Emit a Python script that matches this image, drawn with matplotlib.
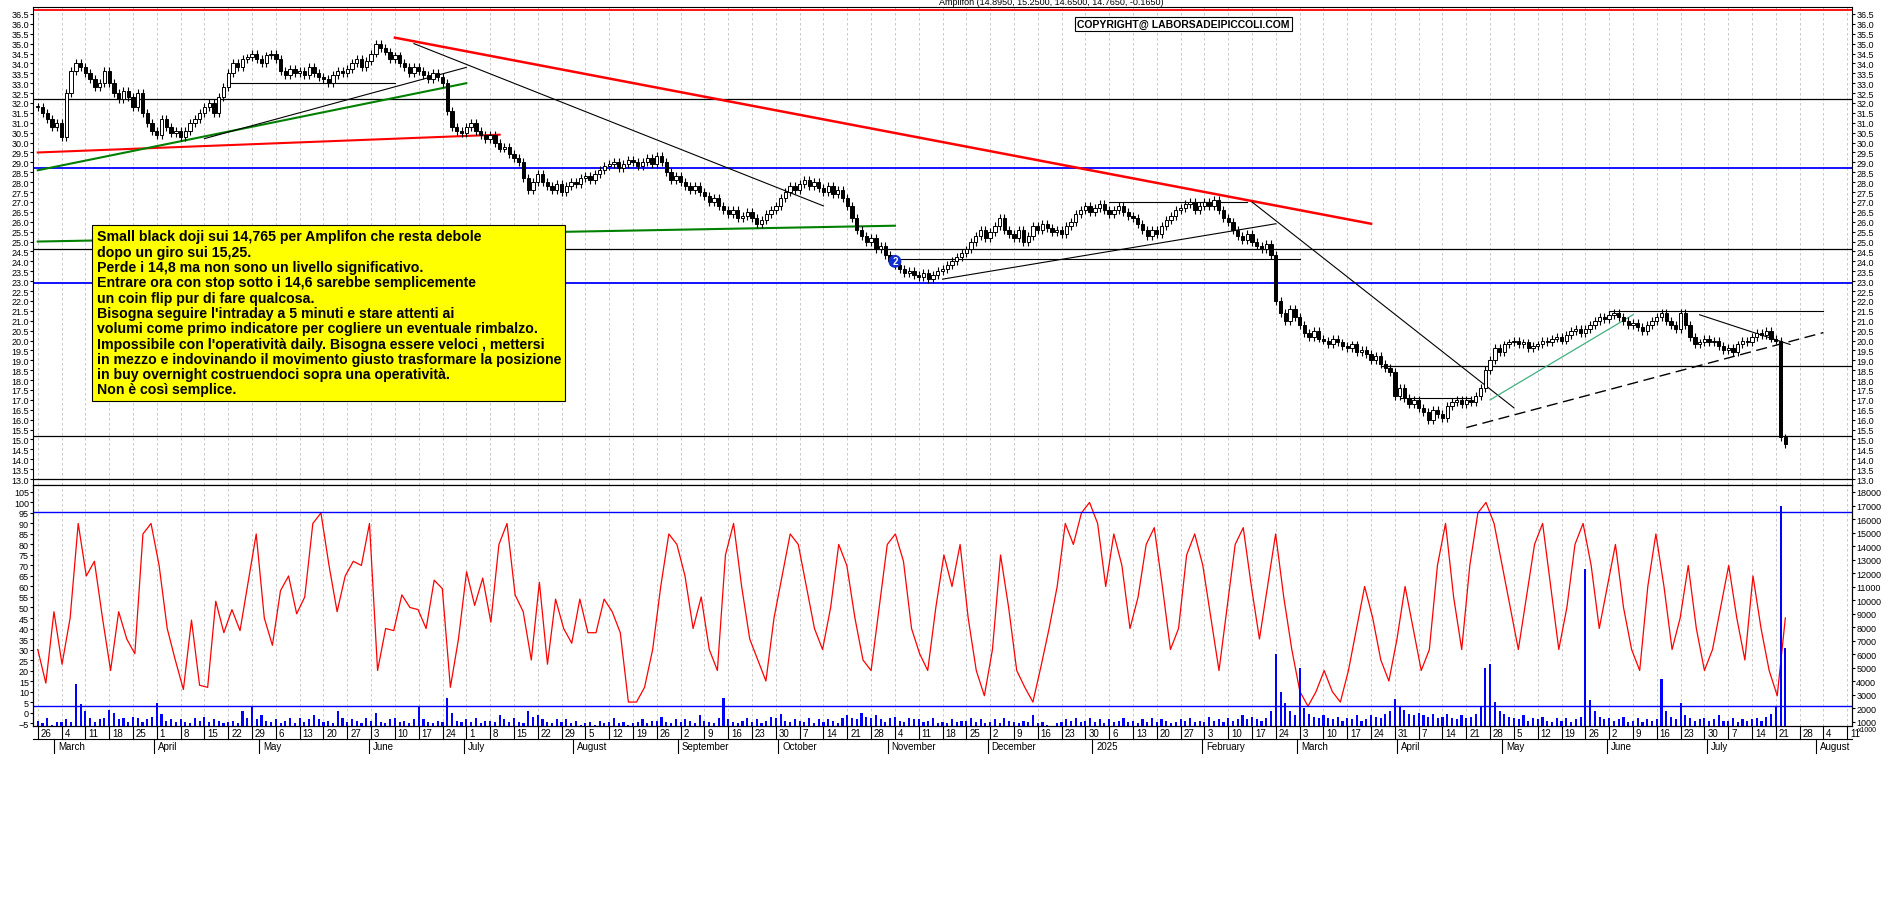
import numpy as np
import pandas as pd
import matplotlib
matplotlib.use("Agg")
import matplotlib.pyplot as plt

plt.rcParams["font.family"] = "Liberation Sans"

# ---------------- data ----------------
start_date = "2024-02-26"
close = [
    31.8, 31.5, 31.2, 30.8, 31.0,
    30.3, 32.5, 33.6, 34.0, 33.8,
    33.5, 33.2, 32.8, 33.0, 33.6,
    33.0, 32.5, 32.2, 32.6, 32.3,
    31.8, 32.5, 31.5, 31.0, 30.6,
    30.4, 31.2, 30.8, 30.5, 30.6,
    30.3, 30.6, 31.0, 31.2, 31.5,
    31.8, 32.0, 31.5, 32.3, 32.8,
    33.5, 34.0, 33.8, 34.2, 34.3,
    34.5, 34.2, 34.0, 34.4, 34.5,
    34.2, 33.6, 33.4, 33.7, 33.5,
    33.6, 33.4, 33.8, 33.5, 33.3,
    33.2, 33.0, 33.4, 33.6, 33.5,
    33.7, 34.0, 34.2, 33.8, 34.1,
    34.5, 35.0, 34.8, 34.6, 34.2,
    34.4, 34.0, 33.8, 33.5, 33.8,
    33.6, 33.4, 33.2, 33.5, 33.3,
    33.0, 31.6, 30.8, 30.6, 30.5,
    30.8, 31.0, 30.6, 30.4, 30.2,
    30.4, 30.0, 29.7, 29.8, 29.4,
    29.2, 29.0, 28.2, 27.6, 28.0,
    28.4, 28.0, 27.8, 27.6, 27.9,
    27.5, 27.8, 28.0, 27.9, 28.2,
    28.3, 28.1, 28.4, 28.6, 28.8,
    28.9, 29.0, 28.7, 28.9, 29.1,
    29.0, 28.8, 29.0, 29.2, 28.9,
    29.3, 29.0, 28.5, 28.1, 28.3,
    28.0, 27.8, 27.6, 27.8, 27.5,
    27.3, 27.0, 27.2, 26.8, 26.6,
    26.4, 26.6, 26.2, 26.3, 26.5,
    26.2, 25.9, 26.1, 26.4, 26.6,
    26.8, 27.2, 27.5, 27.8, 27.6,
    27.9, 28.1, 27.8, 28.0, 27.7,
    27.5, 27.8, 27.4, 27.6, 27.2,
    26.8, 26.2, 25.6, 25.3, 25.0,
    25.2, 24.6, 24.8, 24.3, 24.0,
    23.8, 23.6, 23.4, 23.5, 23.3,
    23.2, 23.4, 23.1, 23.3, 23.5,
    23.6, 23.8, 24.0, 24.2, 24.4,
    24.6, 25.0, 25.3, 25.6, 25.2,
    25.5, 25.8, 26.2, 25.6, 25.4,
    25.2, 25.6, 25.0, 25.3, 25.8,
    25.6, 25.9, 25.7, 25.5, 25.6,
    25.4, 25.8, 26.0, 26.4, 26.6,
    26.8, 26.5, 26.7, 26.9, 26.6,
    26.4, 26.6, 26.8, 26.5, 26.3,
    26.2, 25.9, 25.6, 25.3, 25.6,
    25.4, 25.8, 26.1, 26.3, 26.6,
    26.7, 26.9, 27.0, 26.6, 26.8,
    27.0, 26.8, 27.1, 26.6, 26.2,
    26.0, 25.6, 25.3, 25.1, 25.4,
    25.0, 24.8, 24.6, 24.9, 24.3,
    22.0, 21.4, 21.0, 21.6, 21.2,
    20.8, 20.4, 20.2, 20.5, 20.1,
    20.0, 19.8, 20.1, 19.9, 19.7,
    19.6, 19.8, 19.4, 19.5, 19.3,
    19.0, 19.2, 18.8, 18.6, 18.4,
    17.2, 17.6, 17.1, 16.8, 17.0,
    16.6, 16.4, 16.0, 16.5, 16.3,
    16.1, 16.7, 16.9, 17.0, 16.8,
    17.0, 16.9, 17.2, 17.6, 18.5,
    19.0, 19.6, 19.4, 19.8, 19.9,
    20.0, 19.8, 19.9, 19.6, 19.7,
    19.8, 20.0, 19.9, 20.1, 20.2,
    20.0, 20.3, 20.5, 20.6, 20.4,
    20.6, 20.8, 21.0, 21.2, 21.1,
    21.3, 21.4, 21.2, 21.0, 20.8,
    20.9, 20.7, 20.5, 20.8, 21.0,
    21.2, 21.4, 21.0, 20.8, 20.6,
    21.4, 20.8, 20.2, 19.8, 19.9,
    20.1, 19.9, 20.0, 19.7, 19.5,
    19.6, 19.4, 19.8, 20.0, 19.9,
    20.2, 20.4, 20.3, 20.5, 20.1,
    20.0, 15.1, 14.765,
]

volume = [  # thousands
    1100, 900, 1300, 800, 1000,
    1000, 1200, 1000, 3800, 2300,
    1800, 1300, 1000, 1200, 1300,
    1900, 1700, 1200, 1300, 1000,
    1400, 1300, 1000, 1200, 1400,
    2400, 1600, 1100, 1200, 1000,
    1200, 1000, 900, 1300, 1100,
    1400, 1000, 1200, 1100, 900,
    1000, 1100, 900, 1800, 1300,
    2100, 1200, 1500, 1100, 1000,
    1200, 900, 1100, 1300, 900,
    1300, 1000, 1200, 1500, 1200,
    1000, 1100, 900, 1800, 1300,
    1000, 1200, 1100, 900, 1300,
    1100, 1700, 1000, 900, 1200,
    1300, 1000, 1100, 900, 1200,
    2200, 1200, 1000, 900, 1100,
    1000, 2800, 1700, 1100, 1000,
    1200, 1000, 1300, 900, 1100,
    1100, 1000, 1500, 1200, 1000,
    1300, 1000, 900, 1800, 1400,
    1500, 1200, 1000, 900, 1200,
    1000, 1200, 900, 1100, 800,
    900, 1000, 800, 1100, 900,
    1000, 1300, 900, 1000, 800,
    900, 1000, 1200, 900, 1100,
    1100, 1400, 1000, 900, 1200,
    1000, 1200, 1100, 900, 1500,
    1100, 1000, 900, 1300, 2800,
    1200, 1000, 900, 1100, 1300,
    1000, 1200, 900, 1100, 1400,
    1300, 1600, 1100, 1000, 1200,
    1100, 1000, 1300, 900, 1200,
    1000, 1200, 1100, 900, 1300,
    1500, 1300, 1200, 1700, 1400,
    1300, 1500, 1200, 1000, 1300,
    1400, 1100, 1000, 1300, 1200,
    1200, 1000, 1100, 1300, 900,
    1000, 900, 1200, 1000, 1100,
    1100, 1300, 1000, 1200, 900,
    1000, 1200, 900, 1300, 1100,
    1000, 900, 1100, 1000, 1500,
    900, 1000, 800, 700, 900,
    1000, 1200, 1100, 1300, 1000,
    1100, 1300, 1000, 1200, 900,
    1200, 1000, 1100, 1300, 1000,
    1100, 900, 1200, 1000, 1300,
    1000, 1200, 1100, 900, 1000,
    1200, 1100, 1300, 1000, 1100,
    1000, 1400, 1100, 1200, 1000,
    1300, 1100, 1200, 1500, 1200,
    1400, 1200, 1100, 1300, 1800,
    6000, 3200, 2400, 1800, 1500,
    5000, 2000, 1600, 1400, 1300,
    1500, 1300, 1200, 1400, 1100,
    1300, 1200, 1500, 1100, 1200,
    1500, 1400, 1300, 1600, 1800,
    2700, 2200, 1900, 1600, 1500,
    1700, 1500, 1400, 1600, 1300,
    1400, 1600, 1300, 1200, 1500,
    1300, 1400, 1600, 2200, 5000,
    5300, 2500, 1800, 1600, 1400,
    1300, 1200, 1500, 1100, 1300,
    1200, 1400, 1100, 1000, 1300,
    1100, 1300, 1000, 1200, 1400,
    12300, 2600, 1800, 1400, 1200,
    1300, 1100, 1200, 1400, 1000,
    1100, 1300, 1000, 1200, 1100,
    1200, 4200, 1800, 1400, 1200,
    2400, 1500, 1300, 1100, 1200,
    1300, 1100, 1200, 1500, 1100,
    1100, 1300, 1000, 1200, 1100,
    1200, 1300, 1100, 1400, 1600,
    2200, 17000, 6500,
]

oscillator = [
    30, 14, 48, 23, 45, 90, 65, 72, 45, 20, 48, 35, 28, 85, 90, 70, 40, 25, 11, 44,
    13, 12, 53, 38, 49, 39, 62, 85, 45, 32, 58, 65, 47, 55, 90, 95, 70, 48, 65, 72,
    70, 90, 20, 40, 39, 56, 50, 49, 40, 63, 59, 12, 35, 67, 51, 64, 43, 80, 90, 56,
    48, 25, 62, 23, 54, 40, 33, 54, 38, 38, 54, 48, 38, 5, 5, 12, 30, 60, 85, 80,
    65, 40, 55, 30, 20, 75, 90, 60, 35, 25, 15, 45, 65, 85, 80, 60, 40, 30, 50, 80,
    70, 45, 25, 20, 50, 80, 85, 72, 40, 28, 20, 50, 75, 60, 80, 45, 20, 8, 30, 75,
    50, 20, 12, 5, 22, 40, 60, 90, 80, 95, 100, 90, 60, 85, 70, 40, 55, 80, 88, 60,
    30, 40, 75, 85, 70, 45, 20, 50, 80, 88, 60, 35, 60, 85, 55, 30, 10, 3, 10, 20,
    10, 5, 20, 40, 60, 45, 25, 15, 35, 60, 40, 20, 30, 70, 90, 55, 30, 70, 95, 100,
    90, 70, 50, 30, 55, 80, 90, 60, 30, 50, 80, 90, 70, 40, 60, 80, 50, 30, 20, 60,
    85, 60, 30, 45, 70, 40, 20, 30, 50, 70, 45, 25, 65, 40, 20, 8, 45,
]

# horizontal levels: (price, colour, start date or None)
levels = [
    (36.7, "red", None), (32.2, "black", None), (28.7, "blue", None),
    (24.6, "black", None), (22.9, "blue", None), (15.2, "black", None),
    (18.7, "black", "2025-03-26"), (13.0, "black", None),
]
# trend lines: (date1, price1, date2, price2, colour, width, style)
trendlines = [
    ("2024-06-10", 35.3, "2025-03-24", 25.9, "red", 1.8, "-"),
    ("2024-02-26", 29.5, "2024-07-10", 30.4, "red", 1.5, "-"),
    ("2024-02-26", 28.6, "2024-07-01", 33.0, "green", 1.5, "-"),
    ("2024-02-26", 25.0, "2024-11-04", 25.8, "green", 1.5, "-"),
    ("2024-04-15", 30.2, "2024-07-01", 33.8, "black", 0.8, "-"),
    ("2024-06-14", 35.0, "2024-10-14", 26.8, "black", 0.8, "-"),
    ("2024-11-18", 23.1, "2025-02-24", 25.9, "black", 0.8, "-"),
    ("2025-02-17", 27.0, "2025-05-05", 16.6, "black", 0.8, "-"),
    ("2025-04-21", 15.6, "2025-08-04", 20.4, "black", 1.0, (0, (8, 4))),
    ("2025-04-28", 17.0, "2025-06-09", 21.3, "#40b080", 0.9, "-"),
    ("2025-06-27", 21.3, "2025-07-24", 19.8, "black", 0.8, "-"),
    ("2025-01-06", 27.0, "2025-02-14", 27.0, "black", 0.8, "-"),
    ("2024-11-04", 24.1, "2025-03-03", 24.1, "black", 0.8, "-"),
    ("2025-04-01", 17.1, "2025-04-22", 17.1, "black", 0.8, "-"),
    ("2025-06-02", 21.5, "2025-08-04", 21.5, "black", 0.8, "-"),
    ("2024-04-22", 33.0, "2024-06-10", 33.0, "black", 0.8, "-"),
]

note = ("Small black doji sui 14,765 per Amplifon che resta debole\n"
        "dopo un giro sui 15,25.\n"
        "Perde i 14,8 ma non sono un livello significativo.\n"
        "Entrare ora con stop sotto i 14,6 sarebbe semplicemente\n"
        "un coin flip pur di fare qualcosa.\n"
        "Bisogna seguire l'intraday a 5 minuti e stare attenti ai\n"
        "volumi come primo indicatore per cogliere un eventuale rimbalzo.\n"
        "Impossibile con l'operatività daily. Bisogna essere veloci , mettersi\n"
        "in mezzo e indovinando il movimento giusto trasformare la posizione\n"
        "in buy overnight costruendoci sopra una operatività.\n"
        "Non è così semplice.")

# ---------------- figure ----------------
W, H = 1890, 903
fig = plt.figure(figsize=(W / 100, H / 100), dpi=100)
L, R = 33 / W, 1852 / W
top_p, bot_p = 8, 486
bot_v = 727
axp = fig.add_axes([L, 1 - bot_p / H, R - L, (bot_p - top_p) / H])
axo = fig.add_axes([L, 1 - bot_v / H, R - L, (bot_v - bot_p) / H], sharex=axp)
axv = axo.twinx()

n = len(close)
dates = pd.bdate_range(start_date, periods=n + 20)
idx = {d: i for i, d in enumerate(dates)}
def di(s):
    return idx[pd.Timestamp(s)]

c = np.array(close)
o = np.concatenate([[c[0]], c[:-1]])
hi = np.maximum(o, c) + 0.2
lo = np.minimum(o, c) - 0.2
x = np.arange(n)
axp.vlines(x, lo, hi, color="black", lw=0.8, zorder=3)
for i in range(n):
    up = c[i] >= o[i]
    bh = max(abs(c[i] - o[i]), 0.04)
    axp.add_patch(plt.Rectangle((i - 0.35, min(o[i], c[i])), 0.7, bh,
                                facecolor="white" if up else "black",
                                edgecolor="black", lw=0.7, zorder=4))

xmin, xmax = -1.0, n + 13
for p, col, s in levels:
    xs = di(s) if s else xmin
    axp.plot([xs, xmax], [p, p], color=col, lw=1.3 if col != "black" else 0.9, zorder=2)
for d1, p1, d2, p2, col, lw, ls in trendlines:
    axp.plot([di(d1), di(d2)], [p1, p2], color=col, lw=lw, ls=ls, zorder=2)

axp.set_ylim(12.7, 36.85)
axp.set_xlim(xmin, xmax)
pt = np.arange(13.0, 36.51, 0.5)
axp.set_yticks(pt)
axp.set_yticklabels([f"{v:.1f}" for v in pt])
axp.tick_params(axis="y", labelsize=6.5, length=2, pad=1, labelleft=True, labelright=True, left=True, right=True)
axp.tick_params(axis="x", bottom=False, labelbottom=False)

mondays = [i for i, d in enumerate(dates) if d.weekday() == 0 and i <= xmax]
for ax in (axp, axo):
    for m in mondays:
        ax.axvline(m, color="#c0c0c0", lw=0.6, ls=(0, (3, 3)), zorder=0)

# annotation box
axp.text(0.035, 0.535, note, transform=axp.transAxes, fontsize=10.2, weight="bold",
         va="top", ha="left", linespacing=1.12, zorder=6,
         bbox=dict(facecolor="#ffff00", edgecolor="black", lw=0.8, boxstyle="square,pad=0.3"))
axp.text(0.56, 1.003, "Amplifon (14.8950, 15.2500, 14.6500, 14.7650, -0.1650)",
         transform=axp.transAxes, fontsize=6.5, ha="center", va="bottom")
axp.text(0.6325, 0.965, "COPYRIGHT@ LABORSADEIPICCOLI.COM", transform=axp.transAxes,
         fontsize=7.5, weight="bold", ha="center", va="center", zorder=6,
         bbox=dict(facecolor="white", edgecolor="black", lw=0.8, boxstyle="square,pad=0.2"))
axp.text(di("2024-11-04"), 24.0, "2", fontsize=7, color="white", weight="bold", ha="center",
         va="center", zorder=7, bbox=dict(boxstyle="circle,pad=0.15", facecolor="#1030d0", edgecolor="none"))

# lower panel
ox = np.linspace(0, n - 1, len(oscillator))
axo.plot(ox, oscillator, color="red", lw=0.9, zorder=3)
axo.set_ylim(-6.4, 108.3)
ot = np.arange(-5, 106, 5)
axo.set_yticks(ot)
axo.tick_params(axis="y", labelsize=6.5, length=2, pad=1)
axv.bar(x, volume, width=0.45, color="blue", zorder=2)
axv.set_ylim(704, 18517)
vt = np.arange(1000, 18001, 1000)
axv.set_yticks(vt)
axv.tick_params(axis="y", labelsize=6.5, length=2, pad=1)
axv.axhline(16500, color="blue", lw=1.0)
axv.axhline(2200, color="blue", lw=1.0)
axv.text(1.003, 0.0, "x1000", transform=axv.transAxes, fontsize=5, va="top")

# x axis labels (drawn manually)
axo.tick_params(axis="x", bottom=False, labelbottom=False)
xt = axo.get_xaxis_transform()
for m in mondays:
    axo.text(m + 0.6, -0.008, str(dates[m].day), transform=xt, fontsize=7, va="top", ha="left")
    axo.plot([m, m], [0, -0.055], transform=xt, color="black", lw=0.8, clip_on=False)
axo.plot([0, 1], [-0.055, -0.055], transform=axo.transAxes, color="black", lw=0.8, clip_on=False)
months = {}
for i, d in enumerate(dates):
    if i > xmax:
        break
    key = (d.year, d.month)
    if key not in months:
        months[key] = i
for (yy, mm), i in months.items():
    if i == 0:
        continue
    name = "2025" if (yy == 2025 and mm == 1) else pd.Timestamp(yy, mm, 1).strftime("%B")
    axo.text(i + 0.3, -0.062, name, transform=xt, fontsize=7, va="top", ha="left")
    axo.plot([i - 0.5, i - 0.5], [-0.055, -0.11], transform=xt,
             color="black", lw=0.8, clip_on=False)

for ax in (axp, axo, axv):
    for s in ax.spines.values():
        s.set_linewidth(0.8)

fig.savefig("out.png", dpi=100, facecolor="white")
